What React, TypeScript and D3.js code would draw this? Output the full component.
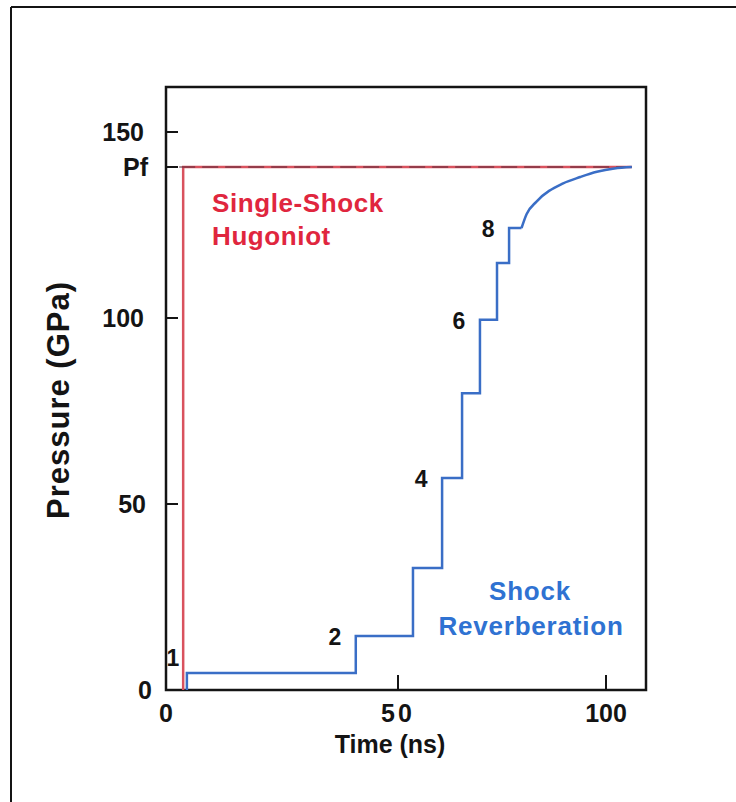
import React from "react";
import * as d3 from "d3";

// ---- data ----
const xTicks = [0, 50, 100];
const yTicks = [0, 50, 100, 150];
const PF = 140.6; // final pressure "Pf"

// single-shock Hugoniot (red)
const hugTime = [3.7, 3.7, 106.2];
const hugP = [0, PF, PF];

// shock reverberation steps (blue): each level starts at stepTime[i]
const stepTime = [4.5, 40.9, 53.6, 60.6, 65.4, 69.7, 73.8, 76.7];
const stepP = [4.6, 14.5, 32.8, 57.0, 79.8, 99.5, 114.8, 124.2];
const stepEnd = 79.7;
// smooth relaxation to Pf after the 8th step
const relaxTime = [79.7, 80.9, 83.3, 89.7, 93.8, 97.8, 102.0, 106.2];
const relaxP = [124.2, 127.9, 131.3, 136.2, 137.9, 139.3, 140.2, 140.6];

const stepLabels = ["1", "2", "4", "6", "8"];
const stepLabelIdx = [0, 1, 3, 5, 7];

const W = 736;
const H = 802;
const left = 166;
const top = 87;
const right = 646;
const bottom = 690;

const FONT = "'Liberation Sans', Arial, Helvetica, sans-serif";
const RED_LINE = "#d9525e";
const RED_TEXT = "#e0263e";
const BLUE_LINE = "#3a6ec6";
const BLUE_TEXT = "#2f72d2";
const INK = "#141414";

export default function App() {
  // the original axis is hand-drawn and not quite uniform
  const x = d3
    .scaleLinear()
    .domain([0, 50, 100, 109.6])
    .range([left, left + 232, left + 440, right]);
  const y = d3.scaleLinear().domain([0, 162.1]).range([bottom, top]);

  const line = d3
    .line<[number, number]>()
    .x((d) => x(d[0]))
    .y((d) => y(d[1]));

  const hugPts: [number, number][] = hugTime.map((t, i) => [t, hugP[i]]);
  const stepPts: [number, number][] = [[stepTime[0], 0]];
  stepTime.forEach((t, i) => stepPts.push([t, stepP[i]]));
  stepPts.push([stepEnd, stepP[stepP.length - 1]]);
  const stepPath = line.curve(d3.curveStepAfter)(stepPts) || "";
  const relaxPts: [number, number][] = relaxTime.map((t, i) => [t, relaxP[i]]);
  const relaxPath = line.curve(d3.curveMonotoneX)(relaxPts) || "";
  const hugPath = line.curve(d3.curveLinear)(hugPts) || "";

  const riserX = (i: number) => x(stepTime[i]);

  return (
    <svg
      width={W}
      height={H}
      viewBox={`0 0 ${W} ${H}`}
      style={{ position: "absolute", left: 0, top: 0, background: "#fff" }}
    >
      {/* outer frame */}
      <line x1={11} y1={7} x2={W} y2={7} stroke={INK} strokeWidth={2} />
      <line x1={11} y1={7} x2={11} y2={H} stroke={INK} strokeWidth={2} />

      {/* plot frame */}
      <rect
        x={left}
        y={top}
        width={right - left}
        height={bottom - top}
        fill="none"
        stroke={INK}
        strokeWidth={2.5}
      />

      {/* y ticks */}
      {yTicks.map((v) => (
        <g key={"y" + v}>
          {v > 0 && (
            <line x1={left} x2={left + 12} y1={y(v)} y2={y(v)} stroke={INK} strokeWidth={2} />
          )}
          <text
            x={left - 22 + (v === 0 ? 8 : v === 50 ? 2 : 0)}
            y={y(v)}
            dy="0.36em"
            textAnchor="end"
            fontFamily={FONT}
            fontWeight="bold"
            fontSize={25}
            fill={INK}
          >
            {v}
          </text>
        </g>
      ))}
      <line x1={left} x2={left + 12} y1={y(PF)} y2={y(PF)} stroke={INK} strokeWidth={2} />
      <text
        x={left - 18}
        y={y(PF)}
        dy="0.36em"
        textAnchor="end"
        fontFamily={FONT}
        fontWeight="bold"
        fontSize={25}
        fill={INK}
      >
        Pf
      </text>

      {/* x ticks */}
      {xTicks.map((v) => (
        <g key={"x" + v}>
          {v > 0 && (
            <line x1={x(v)} x2={x(v)} y1={bottom} y2={bottom - 15} stroke={INK} strokeWidth={2} />
          )}
          <text
            x={x(v)}
            y={bottom + 23}
            dy="0.36em"
            textAnchor="middle"
            fontFamily={FONT}
            fontWeight="bold"
            fontSize={25}
            letterSpacing={v === 50 ? 3 : 0}
            fill={INK}
          >
            {v}
          </text>
        </g>
      ))}

      {/* axis titles */}
      <text
        x={390}
        y={744}
        dy="0.36em"
        textAnchor="middle"
        fontFamily={FONT}
        fontWeight="bold"
        fontSize={25}
        fill={INK}
      >
        Time (ns)
      </text>
      <text
        transform="translate(58,400) rotate(-90)"
        dy="0.36em"
        textAnchor="middle"
        fontFamily={FONT}
        fontWeight="bold"
        fontSize={31}
        letterSpacing={1}
        fill={INK}
      >
        Pressure (GPa)
      </text>

      {/* curves */}
      <path d={hugPath} fill="none" stroke={RED_LINE} strokeWidth={2.5} />
      <line
        x1={x(hugTime[1]) - 4}
        x2={x(hugTime[2])}
        y1={y(PF)}
        y2={y(PF)}
        stroke="#5a2a3a"
        strokeWidth={1.4}
        strokeDasharray="16 7"
        opacity={0.7}
      />
      <path d={stepPath} fill="none" stroke={BLUE_LINE} strokeWidth={2.5} />
      <path d={relaxPath} fill="none" stroke={BLUE_LINE} strokeWidth={2.5} />

      {/* step numbers */}
      {stepLabels.map((s, k) => {
        const i = stepLabelIdx[k];
        const first = i === 0;
        return (
          <text
            key={s}
            x={first ? riserX(0) - 14 : riserX(i) - 21}
            y={first ? y(stepP[0]) - 15 : y(stepP[i]) + 1}
            dy="0.36em"
            textAnchor="middle"
            fontFamily={FONT}
            fontWeight="bold"
            fontSize={23}
            fill={INK}
          >
            {s}
          </text>
        );
      })}

      {/* series labels */}
      <text
        x={212}
        fontFamily={FONT}
        fontWeight="bold"
        fontSize={26}
        letterSpacing={0.6}
        fill={RED_TEXT}
      >
        <tspan x={212} y={212}>Single-Shock</tspan>
        <tspan x={212} y={245}>Hugoniot</tspan>
      </text>
      <text
        textAnchor="middle"
        fontFamily={FONT}
        fontWeight="bold"
        fontSize={26}
        letterSpacing={0.8}
        fill={BLUE_TEXT}
      >
        <tspan x={530} y={600}>Shock</tspan>
        <tspan x={531} y={635}>Reverberation</tspan>
      </text>
    </svg>
  );
}
